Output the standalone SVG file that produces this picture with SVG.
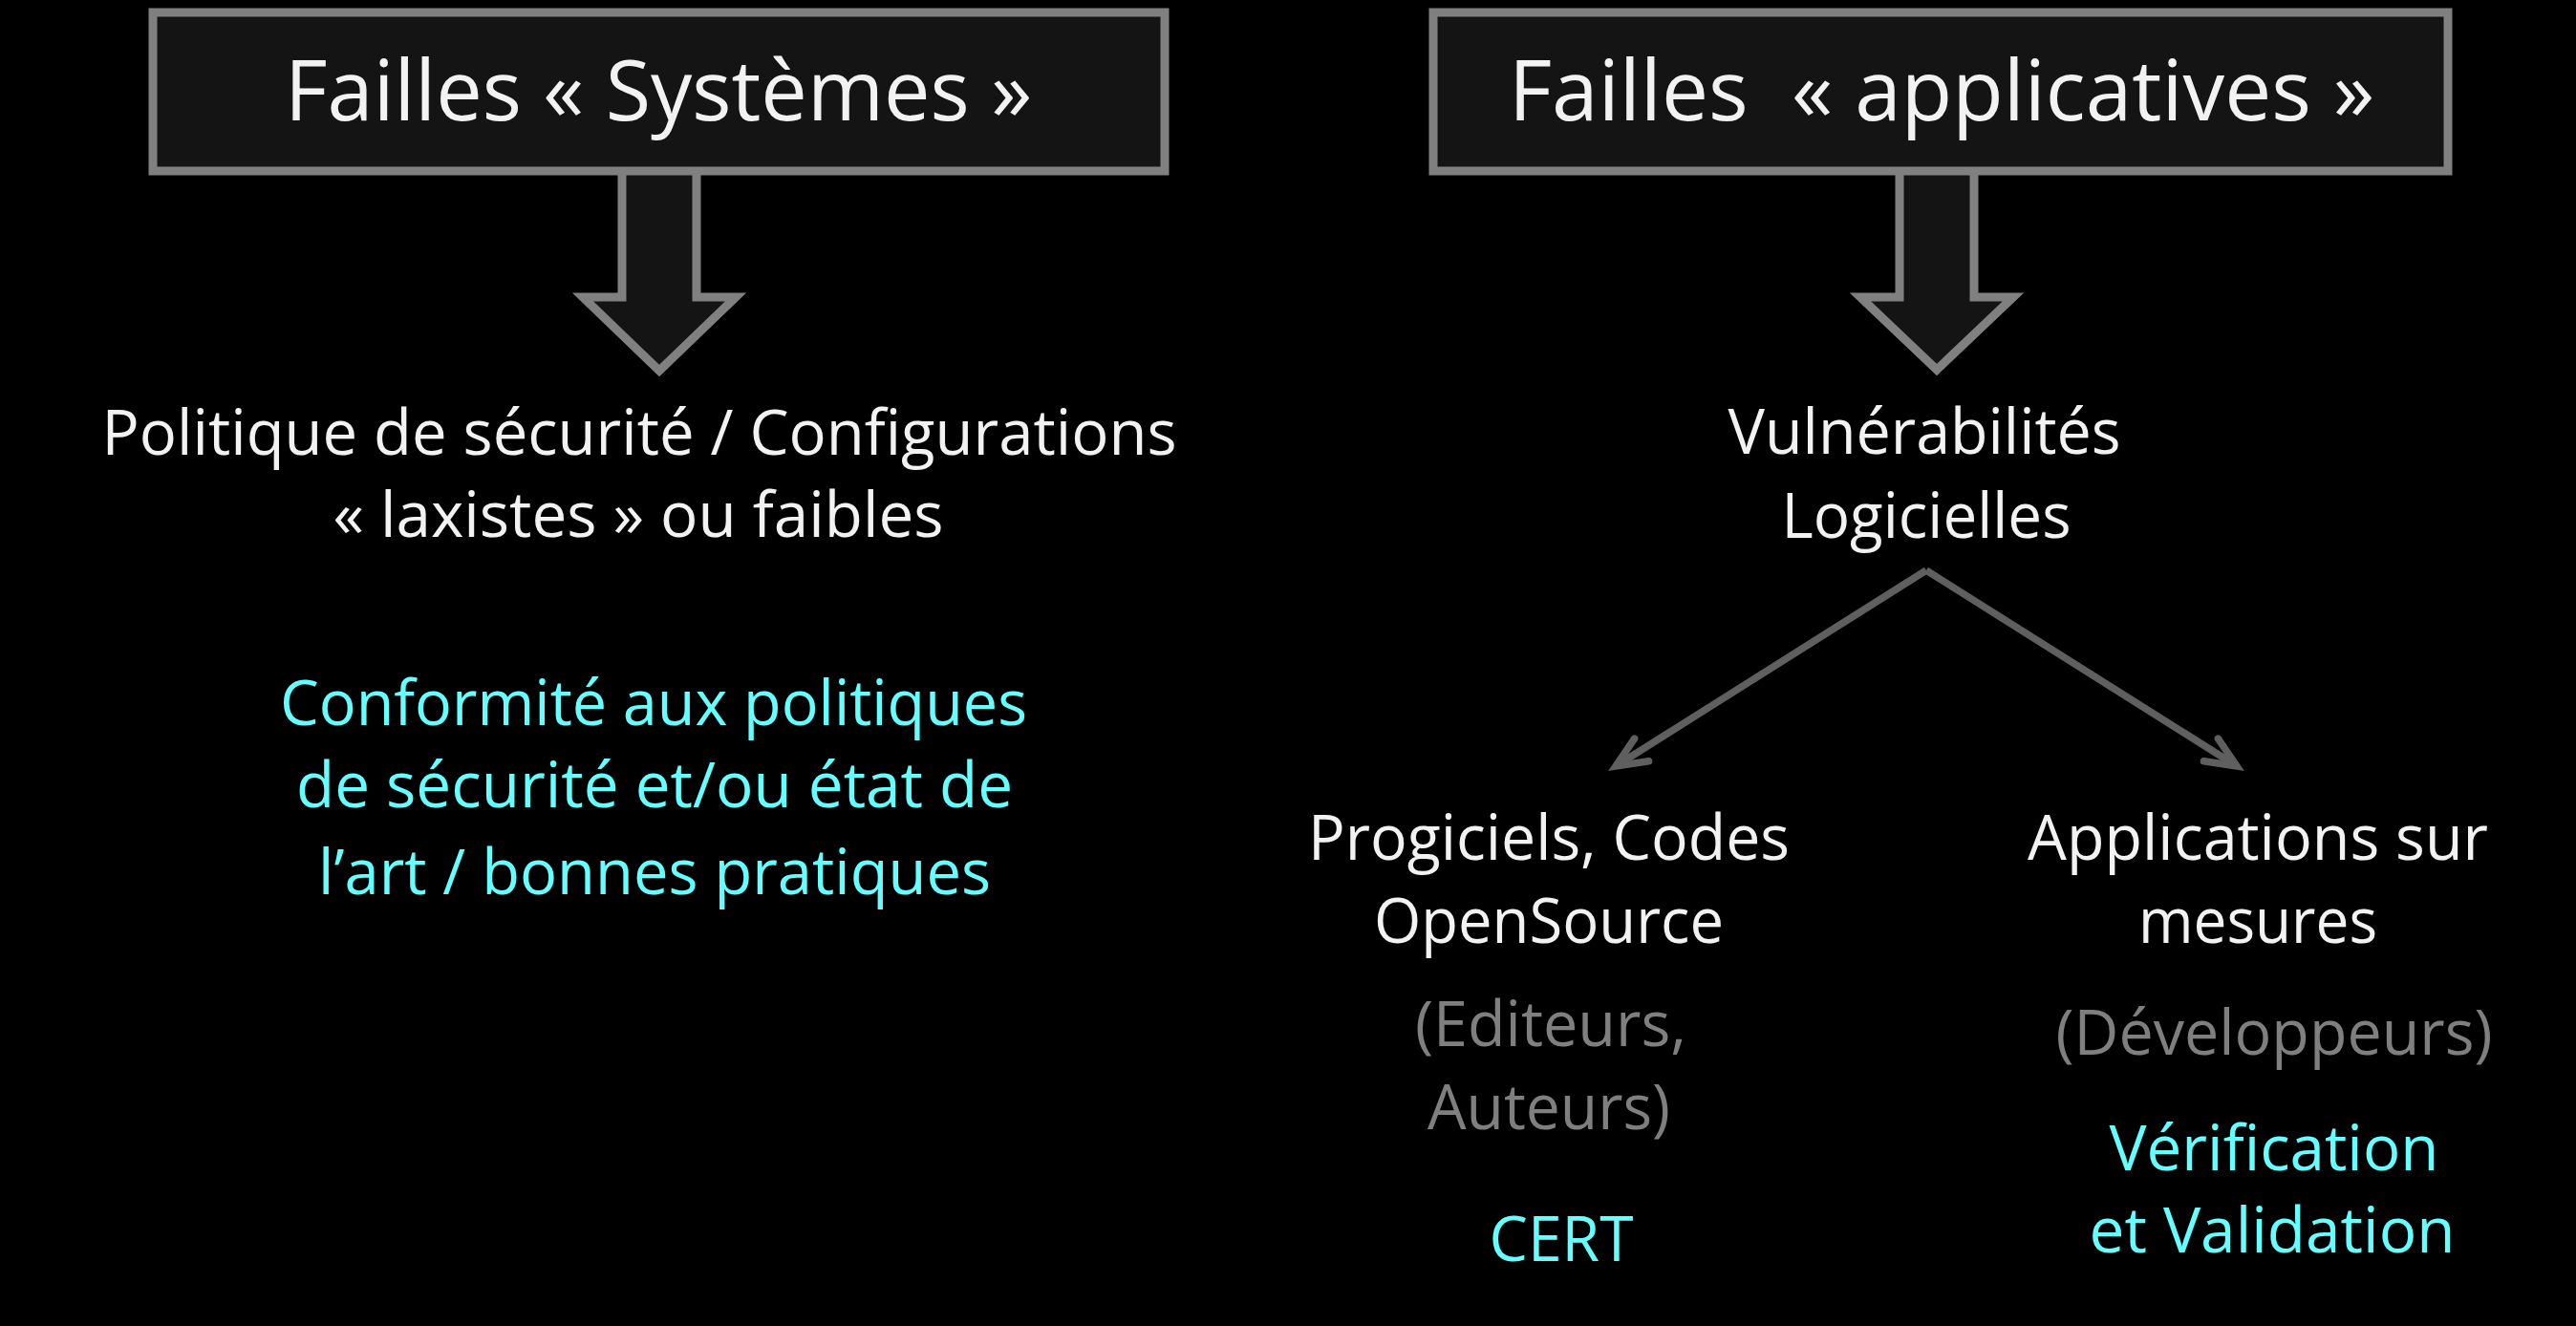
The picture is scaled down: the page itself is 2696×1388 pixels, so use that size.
<svg xmlns="http://www.w3.org/2000/svg" width="2696" height="1388" viewBox="0 0 2696 1388">
  <defs>
    <style>
      .box { fill: #141414; stroke: #808080; stroke-width: 9; }
      .bigarrow { fill: #141414; stroke: #808080; stroke-width: 9; stroke-linejoin: miter; stroke-miterlimit: 10; }
      .title { font-family: "Open Sans", "Noto Sans", sans-serif; font-size: 88px; fill: #f2f2f2; text-anchor: middle; white-space: pre; }
      .txt { font-family: "Open Sans", "Noto Sans", sans-serif; font-size: 66px; text-anchor: middle; }
      .w { fill: #f2f2f2; }
      .c { fill: #66ffff; }
      .g { fill: #7f7f7f; }
      .link { fill: none; stroke: #5f5f5f; stroke-width: 7.5; stroke-linecap: butt; }
    </style>
    <marker id="openArrow" markerUnits="userSpaceOnUse" orient="auto" markerWidth="60" markerHeight="60" viewBox="-45 -30 60 60" refX="0" refY="0" overflow="visible">
      <path d="M -32,-14 L 0,0 L -32,14" fill="none" stroke="#5f5f5f" stroke-width="7.5" stroke-linecap="round" stroke-linejoin="miter" stroke-miterlimit="10"/>
    </marker>
  </defs>

  <rect x="0" y="0" width="2696" height="1388" fill="#000000"/>

  <!-- connectors -->
  <g id="connectors">
    <polygon class="bigarrow" points="651,170 729,170 729,311 770,311 690,388 610,311 651,311"/>
    <polygon class="bigarrow" points="1988,170 2066,170 2066,311 2107,311 2027,387 1947,311 1988,311"/>
    <path class="link" d="M 2016,597 L 1691,802" marker-end="url(#openArrow)"/>
    <path class="link" d="M 2016,597 L 2341,802" marker-end="url(#openArrow)"/>
  </g>

  <!-- system flaws -->
  <g id="failles-systemes">
    <rect class="box" x="160" y="13" width="1059" height="166"/>
    <text class="title" x="689" y="126" textLength="782" lengthAdjust="spacingAndGlyphs">Failles « Systèmes »</text>
  </g>

  <!-- application flaws -->
  <g id="failles-applicatives">
    <rect class="box" x="1500" y="13" width="1062" height="166"/>
    <text class="title" x="2032" y="126" textLength="906" lengthAdjust="spacingAndGlyphs">Failles  « applicatives »</text>
  </g>

  <g id="politique">
    <text class="txt w" x="669" y="476" textLength="1125" lengthAdjust="spacingAndGlyphs">Politique de sécurité / Configurations</text>
    <text class="txt w" x="668" y="562" textLength="639" lengthAdjust="spacingAndGlyphs">« laxistes » ou faibles</text>
  </g>

  <g id="conformite">
    <text class="txt c" x="684" y="759" textLength="782" lengthAdjust="spacingAndGlyphs">Conformité aux politiques</text>
    <text class="txt c" x="685" y="845" textLength="750" lengthAdjust="spacingAndGlyphs">de sécurité et/ou état de</text>
    <text class="txt c" x="685" y="936" textLength="704" lengthAdjust="spacingAndGlyphs">l’art / bonnes pratiques</text>
  </g>

  <g id="vulnerabilites">
    <text class="txt w" x="2014" y="475" textLength="411" lengthAdjust="spacingAndGlyphs">Vulnérabilités</text>
    <text class="txt w" x="2016" y="563" textLength="303" lengthAdjust="spacingAndGlyphs">Logicielles</text>
  </g>

  <g id="progiciels">
    <text class="txt w" x="1621" y="900" textLength="504" lengthAdjust="spacingAndGlyphs">Progiciels, Codes</text>
    <text class="txt w" x="1621" y="987" textLength="366" lengthAdjust="spacingAndGlyphs">OpenSource</text>
    <text class="txt g" x="1623" y="1095" textLength="284" lengthAdjust="spacingAndGlyphs">(Editeurs,</text>
    <text class="txt g" x="1621" y="1182" textLength="254" lengthAdjust="spacingAndGlyphs">Auteurs)</text>
    <text class="txt c" x="1634" y="1320" textLength="151" lengthAdjust="spacingAndGlyphs">CERT</text>
  </g>

  <g id="applications">
    <text class="txt w" x="2363" y="900" textLength="482" lengthAdjust="spacingAndGlyphs">Applications sur</text>
    <text class="txt w" x="2363" y="987" textLength="250" lengthAdjust="spacingAndGlyphs">mesures</text>
    <text class="txt g" x="2380" y="1104" textLength="457" lengthAdjust="spacingAndGlyphs">(Développeurs)</text>
    <text class="txt c" x="2380" y="1225" textLength="345" lengthAdjust="spacingAndGlyphs">Vérification</text>
    <text class="txt c" x="2378" y="1311" textLength="383" lengthAdjust="spacingAndGlyphs">et Validation</text>
  </g>
</svg>
